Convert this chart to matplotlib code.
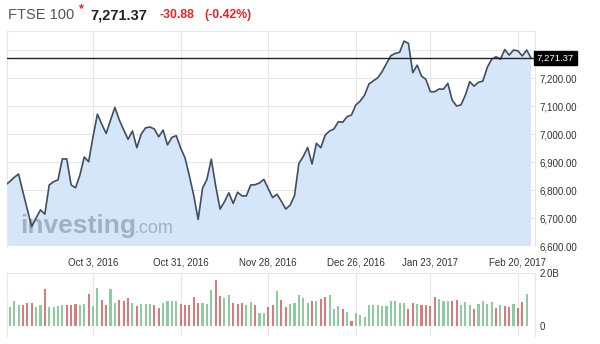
#!/usr/bin/env python3
"""FTSE 100 daily close with volume bars, investing.com style."""
import matplotlib as mpl
import matplotlib.pyplot as plt
import matplotlib.transforms as mtransforms

mpl.use('Agg')
plt.rcParams['font.family'] = ['Liberation Sans', 'DejaVu Sans']

# --- data ---------------------------------------------------------------------
# daily closes (one per trading day, Sep 2016 .. Feb 2017)
closes = [
    6818, 6830, 6845, 6857, 6793, 6731, 6669, 6700, 6729, 6714,
    6818, 6830, 6836, 6911, 6911, 6818, 6808, 6853, 6918, 6901,
    6990, 7071, 7035, 7002, 7050, 7095, 7050, 7015, 6981, 7011,
    6951, 7000, 7022, 7025, 7018, 6990, 7014, 6961, 6988, 6994,
    6950, 6915, 6850, 6780, 6695, 6806, 6838, 6910, 6815, 6732,
    6758, 6790, 6752, 6792, 6779, 6779, 6818, 6819, 6825, 6838,
    6805, 6773, 6785, 6760, 6732, 6746, 6780, 6895, 6920, 6952,
    6893, 6967, 6951, 6996, 7011, 7018, 7044, 7042, 7062, 7068,
    7104, 7118, 7139, 7179, 7190, 7201, 7223, 7252, 7280, 7288,
    7292, 7332, 7324, 7219, 7246, 7207, 7195, 7151, 7151, 7161,
    7160, 7181, 7121, 7100, 7104, 7139, 7187, 7171, 7185, 7189,
    7238, 7267, 7276, 7267, 7302, 7282, 7300, 7297, 7279, 7300,
    7271.37,
]
# volume in billions, bars start at trading day 1
volumes = [
    0.70, 0.95, 0.80, 0.80, 0.88, 0.88, 0.70, 0.78, 1.40, 0.70,
    0.70, 0.74, 0.78, 0.78, 0.80, 0.84, 0.78, 0.84, 1.20, 0.74,
    1.43, 0.99, 0.80, 1.40, 0.88, 0.99, 0.95, 1.05, 0.88, 0.74,
    0.81, 0.81, 0.84, 0.78, 0.67, 0.88, 0.95, 0.95, 0.95, 0.81,
    0.78, 0.78, 1.09, 0.88, 0.88, 0.84, 1.36, 1.73, 1.12, 1.05,
    1.16, 0.88, 0.84, 0.88, 0.78, 0.90, 0.80, 0.49, 0.49, 0.70,
    0.78, 1.33, 0.99, 0.70, 0.81, 0.88, 1.16, 1.05, 0.86, 0.95,
    0.95, 1.01, 1.09, 1.15, 0.65, 0.74, 0.65, 0.51, 0.19, 0.47,
    0.40, 0.33, 0.80, 0.80, 0.80, 0.74, 0.74, 0.95, 0.93, 0.86,
    0.86, 0.64, 0.86, 0.83, 0.78, 0.80, 0.74, 1.09, 1.01, 0.93,
    0.93, 0.93, 0.99, 0.80, 0.90, 0.80, 0.64, 0.83, 0.95, 0.83,
    0.90, 0.68, 0.78, 0.74, 0.70, 0.84, 0.68, 0.90, 1.21,
]
# bar colour per volume bar: g = up day, r = down day
vol_dir = ("gggrrrggrg" "gggrrrggrg" "grrggrrrgr" "gggrrggggr"
           "rrrrgggrrg" "grrrggrggr" "rgrrgggggr" "grrgggrgrg"
           "gggggggggg" "grrgrrrrgg" "grrgggrggg" "grgrrgrrg")
tick_days = [20, 40, 60, 80, 97, 117]
tick_labels = ['Oct 3, 2016', 'Oct 31, 2016', 'Nov 28, 2016',
               'Dec 26, 2016', 'Jan 23, 2017', 'Feb 20, 2017']
price_ticks = [6600, 6700, 6800, 6900, 7000, 7100, 7200]
price_grid = [6600, 6700, 6800, 6900, 7000, 7100, 7200, 7300]
last_price = 7271.37

# --- style ----------------------------------------------------------------------
W, H = 600, 344
LINE = '#414e62'
FILL = '#d6e6f9'
GRID = '#e6e6e6'
GREEN = '#8ecb9f'
RED = '#d97a7b'
TXT = '#333333'
RED_TXT = '#e0262b'
WMARK = '#97a3b4'

fig = plt.figure(figsize=(W / 100, H / 100), dpi=100)
fig.patch.set_facecolor('white')

left, right = 7.3, 535
x0, x1 = 0.43, 120.9

ax = fig.add_axes([left / W, 1 - 246 / H, (right - left) / W, (246 - 31) / H])
days = list(range(len(closes)))
ax.fill_between(days, closes, 6000, color=FILL, lw=0, zorder=1)
ax.plot(days, closes, color=LINE, lw=1.2, zorder=4)
ax.axhline(last_price, color='#222222', lw=1.0, zorder=5)
ax.set_xlim(x0, x1)
ax.set_ylim(6600, 7368)
for g in price_grid:
    ax.axhline(g, color=GRID, lw=0.8, zorder=0)
for t in tick_days:
    ax.axvline(t, color=GRID, lw=0.8, zorder=0)
ax.set_yticks(price_ticks)
ax.set_yticklabels([f'{v:,.2f}' for v in price_ticks])
ax.yaxis.tick_right()
ax.set_xticks(tick_days)
ax.set_xticklabels(tick_labels)
ax.tick_params(axis='both', length=0, labelsize=7, colors=TXT)
ax.tick_params(axis='x', pad=8)
ax.tick_params(axis='y', pad=3)
for s in ax.spines.values():
    s.set_color(GRID)
    s.set_linewidth(0.8)
ax.spines['bottom'].set_visible(False)

# current-price tag
trans = mtransforms.blended_transform_factory(ax.transAxes, ax.transData)
ax.text(1.003, last_price, f'{last_price:,.2f}', transform=trans, color='white',
        fontsize=6.8, va='center', ha='left', zorder=6,
        bbox=dict(boxstyle='square,pad=0.3', fc='black', ec='black'))

# watermark
ax.text(0.024, 0.06, 'investing', transform=ax.transAxes, fontsize=19,
        fontweight='bold', color=WMARK, alpha=0.8, zorder=3)
ax.text(0.24, 0.06, '.com', transform=ax.transAxes, fontsize=13,
        color=WMARK, alpha=0.8, zorder=3)

# --- volume pane --------------------------------------------------------------
axv = fig.add_axes([left / W, 1 - 336 / H, (right - left) / W, (336 - 272.7) / H])
vdays = list(range(1, len(volumes) + 1))
vcols = [GREEN if c == 'g' else RED for c in vol_dir]
axv.bar(vdays, volumes, width=0.48, color=vcols, lw=0, zorder=2)
axv.set_xlim(x0, x1)
axv.set_ylim(-0.375, 2.0)
for t in tick_days:
    axv.axvline(t, color=GRID, lw=0.8, zorder=0)
axv.set_xticks([])
axv.set_yticks([0, 2.0])
axv.set_yticklabels(['0', '2.0B'])
axv.yaxis.tick_right()
axv.tick_params(axis='y', length=0, labelsize=7, colors=TXT, pad=3)
for s in axv.spines.values():
    s.set_color(GRID)
    s.set_linewidth(0.8)
axv.spines['bottom'].set_visible(False)

# --- header -------------------------------------------------------------------
yh = 1 - 15 / H
fig.text(8 / W, yh, 'FTSE 100', fontsize=10.5, color='#555555', va='center')
fig.text(79 / W, 1 - 9 / H, '*', fontsize=9, color=RED_TXT, va='center',
         fontweight='bold')
fig.text(90 / W, yh, '7,271.37', fontsize=10.5, color='#222222', va='center',
         fontweight='bold')
fig.text(159 / W, yh, '-30.88', fontsize=8.8, color=RED_TXT, va='center',
         fontweight='bold')
fig.text(204 / W, yh, '(-0.42%)', fontsize=8.8, color=RED_TXT, va='center',
         fontweight='bold')

fig.savefig('out.png', dpi=100, facecolor='white')
plt.close('all')
